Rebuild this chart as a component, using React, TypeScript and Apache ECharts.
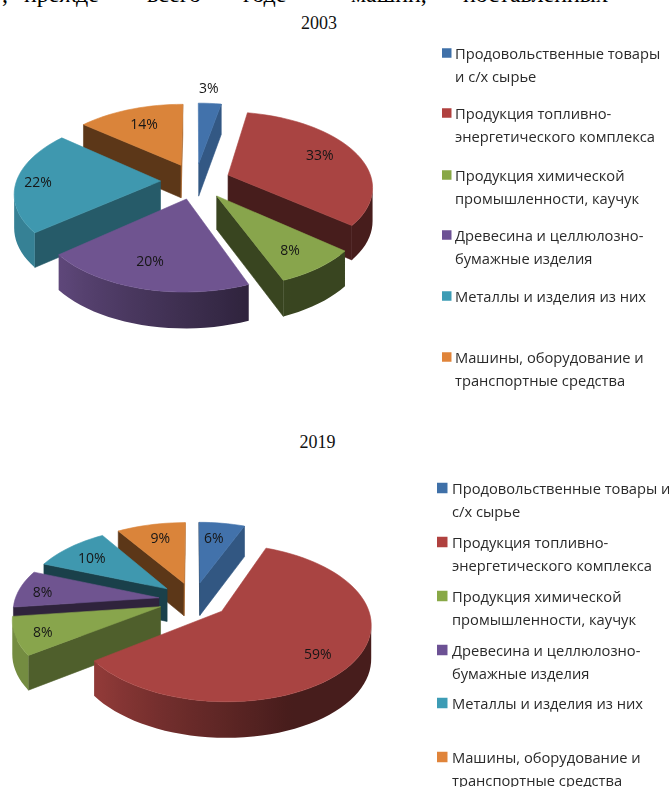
import React, { useEffect, useRef } from "react";
import * as echarts from "echarts";

const years = ["2003", "2019"];
const values2003 = [3, 33, 8, 20, 22, 14];
const values2019 = [6, 59, 8, 8, 10, 9];
const legend2003 = [
  "Продовольственные товары\nи с/х сырье",
  "Продукция топливно-\nэнергетического комплекса",
  "Продукция химической\nпромышленности, каучук",
  "Древесина и целлюлозно-\nбумажные изделия",
  "Металлы и изделия из них",
  "Машины, оборудование и\nтранспортные средства",
];
const legend2019 = [
  "Продовольственные товары и\nс/х сырье",
  "Продукция топливно-\nэнергетического комплекса",
  "Продукция химической\nпромышленности, каучук",
  "Древесина и целлюлозно-\nбумажные изделия",
  "Металлы и изделия из них",
  "Машины, оборудование и\nтранспортные средства",
];
const colors = ["#4272AB", "#A94442", "#88A54C", "#6F5490", "#3F98AF", "#DA843A"];
const legendColors = ["#3F70A8", "#B0413F", "#88A846", "#6C5194", "#3D9CB5", "#E0843A"];
const headerWords = [",", "прежде", "всего", "годе", "машин,", "поставленных"];

// layout
const headerX = [2, 24, 147, 243, 351, 463];
const pie2003 = { cx: 195.5, cy: 181, labelAngle: [4, 67, 145, 197, 270, 335.5], labelR: [1.3, 0.74, 0.76, 0.73, 0.85, 0.72] };
const pie2019 = { cx: 193.5, cy: 600, labelAngle: [9, 131, 248, 276, 309, 345], labelR: [0.73, 0.78, 0.82, 0.83, 0.75, 0.75] };
const legendY2003 = [53, 113, 175, 235, 296, 357];
const legendY2019 = [488, 542, 596, 650, 703, 757];
const R = 144;
const RY = 73.9;
const K = 0.144;
const EXPLODE = 35;
const DEPTH = 33;
const FONT = '"Open Sans", sans-serif';

const rad = (d: number) => (d * Math.PI) / 180;
const shadeColor = (hex: string, f: number) => {
  const n = parseInt(hex.slice(1), 16);
  const c = [(n >> 16) & 255, (n >> 8) & 255, n & 255].map((v) => Math.round(v * f));
  return `rgb(${c[0]},${c[1]},${c[2]})`;
};
const wallShade = (a: number) => (a <= 158 ? 0.42 : a >= 230 ? 0.85 : 0.42 + ((a - 158) / 72) * 0.43);
const cutShade = (n0: number) => {
  const n = ((n0 % 360) + 360) % 360;
  if (n <= 110) return 0.77;
  if (n >= 172) return 0.42;
  return 0.77 - ((n - 110) / 62) * 0.35;
};

function makeRender(values: number[], pie: typeof pie2003) {
  const total = values.reduce((a, b) => a + b, 0);
  let acc = 0;
  const spans = values.map((v) => {
    const s = { a0: (acc / total) * 360, a1: ((acc + v) / total) * 360 };
    acc += v;
    return s;
  });
  const mids = spans.map((s) => (s.a0 + s.a1) / 2);
  const order = mids.map((m, i) => i).sort((i, j) => Math.cos(rad(mids[j])) - Math.cos(rad(mids[i])));
  const proj = (px: number, py: number) => {
    const v = py / R;
    const s = 1 / (1 + K * v);
    return { x: pie.cx + px * s, y: pie.cy - RY * v * s, d: DEPTH * Math.sqrt(s) };
  };
  return (params: any) => {
    const i = params.dataIndex;
    const { a0, a1 } = spans[i];
    const m = rad(mids[i]);
    const ox = EXPLODE * Math.sin(m);
    const oy = EXPLODE * Math.cos(m);
    const at = (a: number, r: number) => proj(ox + r * Math.sin(rad(a)), oy + r * Math.cos(rad(a)));
    const tip = at(0, 0);
    const arc: { a: number; p: any }[] = [];
    const steps = Math.max(2, Math.ceil((a1 - a0) / 3));
    for (let k = 0; k <= steps; k++) {
      const a = a0 + ((a1 - a0) * k) / steps;
      arc.push({ a, p: at(a, R) });
    }
    const z = order.indexOf(i) * 10 + 1;
    const children: any[] = [];
    const quad = (p: any, q: any, fill: string, z2: number) =>
      children.push({
        type: "polygon",
        z2,
        shape: { points: [[p.x, p.y], [q.x, q.y], [q.x, q.y + q.d], [p.x, p.y + p.d]] },
        style: { fill, stroke: fill, lineWidth: 0.6 },
      });
    const first = arc[0].p;
    const last = arc[arc.length - 1].p;
    // only faces that turn towards the viewer are drawn
    if (first.x < tip.x - 0.5) quad(tip, first, shadeColor(colors[i], cutShade(a0 - 90)), z);
    if (tip.x < last.x - 0.5) quad(last, tip, shadeColor(colors[i], cutShade(a1 + 90)), z);
    const run = arc.filter((e, k) => (k < steps && arc[k + 1].p.x < e.p.x) || (k > 0 && e.p.x < arc[k - 1].p.x));
    if (run.length > 1) {
      const minX = Math.min(...run.map((e) => e.p.x));
      const maxX = Math.max(...run.map((e) => e.p.x));
      const stops = run
        .map((e) => ({ offset: (e.p.x - minX) / (maxX - minX), color: shadeColor(colors[i], wallShade(e.a)) }))
        .sort((p, q) => p.offset - q.offset);
      const fill = new echarts.graphic.LinearGradient(0, 0, 1, 0, stops);
      children.push({
        type: "polygon",
        z2: z + 1,
        shape: {
          points: [
            ...run.map((e) => [e.p.x, e.p.y]),
            ...run
              .slice()
              .reverse()
              .map((e) => [e.p.x, e.p.y + e.p.d]),
          ],
        },
        style: { fill },
      });
    }
    const pts = [[tip.x, tip.y], ...arc.map((e) => [e.p.x, e.p.y])];
    children.push({
      type: "polygon",
      z2: z + 2,
      shape: { points: pts },
      style: { fill: colors[i], stroke: colors[i], lineWidth: 0.6 },
    });
    const lp = proj(
      ox + pie.labelR[i] * R * Math.sin(rad(pie.labelAngle[i])),
      oy + pie.labelR[i] * R * Math.cos(rad(pie.labelAngle[i]))
    );
    children.push({
      type: "text",
      z2: 500,
      style: {
        text: `${values[i]}%`,
        x: lp.x,
        y: lp.y,
        align: "center",
        verticalAlign: "middle",
        fill: "#161616",
        font: `14px ${FONT}`,
      },
    });
    return { type: "group", children };
  };
}

function legendGraphics(names: string[], ys: number[], markerX: number, textX: number, size: number, lineH: number) {
  const out: any[] = [];
  names.forEach((name, i) => {
    out.push({
      type: "rect",
      shape: { x: markerX, y: ys[i] - size / 2, width: size, height: size },
      style: { fill: legendColors[i] },
    });
    name.split("\n").forEach((line, j) => {
      out.push({
        type: "text",
        style: {
          text: line,
          x: textX,
          y: ys[i] + j * lineH,
          fill: "#2a2a2a",
          font: `14.7px ${FONT}`,
          verticalAlign: "middle",
        },
      });
    });
  });
  return out;
}

export default function App() {
  const mainRef = useRef<HTMLDivElement>(null);
  const sharpRef = useRef<HTMLDivElement>(null);
  useEffect(() => {
    const main = echarts.init(mainRef.current!, undefined, { renderer: "svg", width: 669, height: 787 });
    main.setOption({
      animation: false,
      backgroundColor: "transparent",
      series: [
        { type: "custom", coordinateSystem: "none", silent: true, data: values2003, renderItem: makeRender(values2003, pie2003) },
        { type: "custom", coordinateSystem: "none", silent: true, data: values2019, renderItem: makeRender(values2019, pie2019) },
      ],
      graphic: [
        ...legendGraphics(legend2003, legendY2003, 442, 455, 9.5, 23.3),
        ...legendGraphics(legend2019, legendY2019, 437, 452, 10.5, 23),
      ],
    });
    const sharp = echarts.init(sharpRef.current!, undefined, { renderer: "svg", width: 669, height: 787 });
    const titleStyle = { fontFamily: '"Liberation Serif", serif', fontSize: 18, fontWeight: "normal", color: "#111" };
    sharp.setOption({
      animation: false,
      backgroundColor: "transparent",
      title: [
        { text: years[0], left: 314, top: 9, textAlign: "center", textStyle: titleStyle },
        { text: years[1], left: 312.5, top: 428, textAlign: "center", textStyle: titleStyle },
      ],
      graphic: headerWords.map((w, i) => ({
        type: "text",
        style: { text: w, x: headerX[i], y: 6, fill: "#000", font: '24px "Liberation Serif", serif', verticalAlign: "bottom" },
      })),
    });
    return () => {
      main.dispose();
      sharp.dispose();
    };
  }, []);
  return (
    <div style={{ position: "absolute", left: 0, top: 0, width: 669, height: 787, overflow: "hidden", background: "#fff" }}>
      <div ref={mainRef} style={{ position: "absolute", left: 0, top: 0, width: 669, height: 787, filter: "blur(0.6px)" }} />
      <div ref={sharpRef} style={{ position: "absolute", left: 0, top: 0, width: 669, height: 787 }} />
    </div>
  );
}
